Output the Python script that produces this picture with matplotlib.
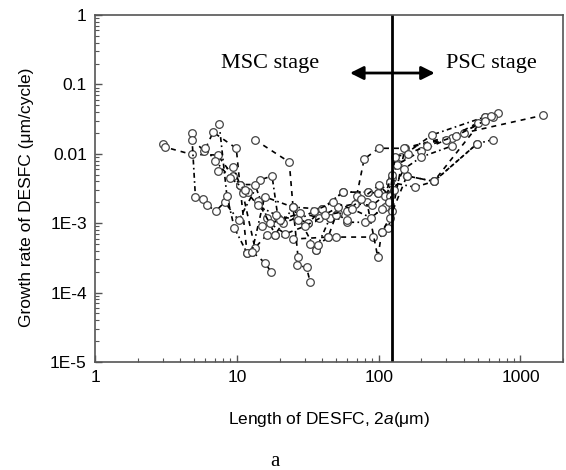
import numpy as np
import matplotlib
matplotlib.use("Agg")
import matplotlib.pyplot as plt
from matplotlib.ticker import FixedLocator, FixedFormatter, LogLocator, NullFormatter

plt.rcParams['font.family'] = ['Liberation Sans', 'DejaVu Sans']
plt.rcParams['mathtext.fontset'] = 'custom'
plt.rcParams['mathtext.it'] = 'Liberation Sans:italic'
plt.rcParams['mathtext.rm'] = 'Liberation Sans'

# crack length 2a (um) and growth rate (um/cycle), one list pair per crack
s1_x = [3.0, 3.1, 4.8, 7.3, 9.4, 10.5, 11.8, 12.8, 15.7, 17.4]
s1_y = [0.0138, 0.0125, 0.0098, 0.0096, 0.0048, 0.0036, 0.00037, 0.00039, 0.00027, 0.0002]

s2_x = [4.8, 5.1, 5.8, 6.2, 7.1, 8.2, 10.3, 14.6, 17.7, 19.5, 21, 26.4, 31.7, 39.8, 56, 84, 98.7, 125, 144, 238, 560, 696]
s2_y = [0.020, 0.0024, 0.0022, 0.0018, 0.0015, 0.0020, 0.0011, 0.0042, 0.0048, 0.0012, 0.00099, 0.0012,
        0.00099, 0.0016, 0.0028, 0.0028, 0.0027, 0.0045, 0.009, 0.0187, 0.034, 0.039]

s3_x = [4.8, 5.9, 6.8, 9.9, 10.5, 11.0, 13.4, 16.3, 18.6, 25, 44, 50, 91, 105, 117, 125, 153, 328, 640]
s3_y = [0.016, 0.011, 0.0205, 0.012, 0.0036, 0.0027, 0.00044, 0.00068, 0.00068, 0.00059, 0.00063, 0.00063,
        0.00063, 0.00074, 0.00085, 0.0015, 0.012, 0.017, 0.034]

s4_x = [7.5, 8.5, 9.6, 11.8, 12.8, 15.7, 24.9, 36, 45.4, 51.6, 59.7, 80, 110, 120, 158, 245, 495]
s4_y = [0.027, 0.0025, 0.00085, 0.00037, 0.00039, 0.0024, 0.0017, 0.00041, 0.0012, 0.0014, 0.00103,
        0.00103, 0.0017, 0.0039, 0.0048, 0.0040, 0.014]

s5_x = [13.4, 23.4, 24.9, 27, 26.4, 31, 32.9]
s5_y = [0.0159, 0.0076, 0.0017, 0.00032, 0.00025, 0.00023, 0.00014]

s6_x = [26.4, 31.7, 45, 60, 70, 79, 100, 150, 400, 1450]
s6_y = [0.0012, 0.00099, 0.0012, 0.0011, 0.0025, 0.0084, 0.012, 0.012, 0.020, 0.036]

s7_x = [7.4, 9.4, 10.5, 13.4, 16.3, 18.6, 24.9, 39.8, 56, 84, 98.7, 118, 120, 180, 245, 495, 640]
s7_y = [0.0057, 0.0065, 0.0036, 0.0036, 0.0012, 0.00068, 0.0017, 0.0016, 0.0028, 0.0028, 0.0027,
        0.0021, 0.0039, 0.0033, 0.0040, 0.014, 0.016]

s8_x = [33, 36, 37.3, 44, 50, 82.6, 98.7, 105, 120, 158, 245, 560]
s8_y = [0.0005, 0.00041, 0.00048, 0.00063, 0.0013, 0.0020, 0.00032, 0.00074, 0.0012, 0.0048, 0.0040, 0.034]

s9_x = [15, 20, 28, 38, 52, 68, 90, 110, 125, 135, 200, 300, 500, 620]
s9_y = [0.0009, 0.0011, 0.0014, 0.0012, 0.0017, 0.0019, 0.0018, 0.0025, 0.0050, 0.0070, 0.011, 0.016, 0.028, 0.035]

s10_x = [12, 14, 17, 22, 30, 42, 60, 75, 100, 120, 130, 160, 220, 350, 560]
s10_y = [0.0028, 0.0021, 0.0010, 0.0007, 0.0009, 0.0013, 0.0015, 0.0022, 0.0035, 0.0025, 0.0090, 0.010,
         0.013, 0.018, 0.030]

s11_x = [6.0, 7.0, 9.0, 11.5, 14, 19, 27, 35, 48, 65, 88, 105, 118, 128, 150, 200, 330]
s11_y = [0.012, 0.0080, 0.0045, 0.0030, 0.0018, 0.0013, 0.0011, 0.0015, 0.0020, 0.0016, 0.0012, 0.0016,
         0.0020, 0.0030, 0.0060, 0.0090, 0.013]

series = [(s1_x, s1_y), (s2_x, s2_y), (s3_x, s3_y), (s4_x, s4_y), (s5_x, s5_y), (s6_x, s6_y),
          (s7_x, s7_y), (s8_x, s8_y), (s9_x, s9_y), (s10_x, s10_y), (s11_x, s11_y)]
styles = ['--', '-.', '--', '-.', '--', '--', '-.', '--', '--', '--', '-.']

boundary = 125  # MSC / PSC transition length

fig = plt.figure(figsize=(5.66, 4.70), dpi=100)
ax = fig.add_axes([0.168, 0.230, 0.827, 0.738])

for (x, y), ls in zip(series, styles):
    ax.plot(x, y, ls=ls, color='black', lw=1.2, marker='o', ms=5.5,
            mfc='white', mec='#444444', mew=0.9, dashes=(3, 3) if ls == '--' else (3, 2, 1, 2))

ax.axvline(boundary, color='black', lw=2)

ax.set_xscale('log')
ax.set_yscale('log')
ax.set_xlim(1, 2000)
ax.set_ylim(1e-5, 1)

ax.xaxis.set_major_locator(FixedLocator([1, 10, 100, 1000]))
ax.xaxis.set_major_formatter(FixedFormatter(['1', '10', '100', '1000']))
ax.xaxis.set_minor_locator(LogLocator(base=10, subs=np.arange(2, 10)))
ax.xaxis.set_minor_formatter(NullFormatter())
ax.yaxis.set_major_locator(FixedLocator([1e-5, 1e-4, 1e-3, 1e-2, 1e-1, 1]))
ax.yaxis.set_major_formatter(FixedFormatter(['1E-5', '1E-4', '1E-3', '0.01', '0.1', '1']))
ax.yaxis.set_minor_locator(LogLocator(base=10, subs=np.arange(2, 10)))
ax.yaxis.set_minor_formatter(NullFormatter())

ax.tick_params(which='major', direction='in', length=5, width=1, labelsize=12.5, pad=6, color='#555555')
ax.tick_params(which='minor', direction='in', length=3, width=0.8, color='#555555')
for sp in ax.spines.values():
    sp.set_color('#555555')
    sp.set_linewidth(1.2)

ax.set_xlabel(r'Length of DESFC, 2$a$(μm)', fontsize=12.5, labelpad=18)
fig.text(27 / 566, 1 - 197 / 470, 'Growth rate of DESFC (μm/cycle)', rotation=90,
         ha='center', va='center', fontsize=12.5)

ax.text(17, 0.2, 'MSC stage', family='Liberation Serif', fontsize=16, ha='center', va='center')
ax.text(620, 0.2, 'PSC stage', family='Liberation Serif', fontsize=16, ha='center', va='center')
ax.annotate('', xy=(60, 0.146), xytext=(260, 0.146),
            arrowprops=dict(arrowstyle='<|-|>', color='black', lw=2, mutation_scale=20))

fig.text(275 / 566, 1 - 461 / 470, 'a', family='Liberation Serif', fontsize=15,
         ha='center', va='center')

fig.savefig('out.png', dpi=100)
